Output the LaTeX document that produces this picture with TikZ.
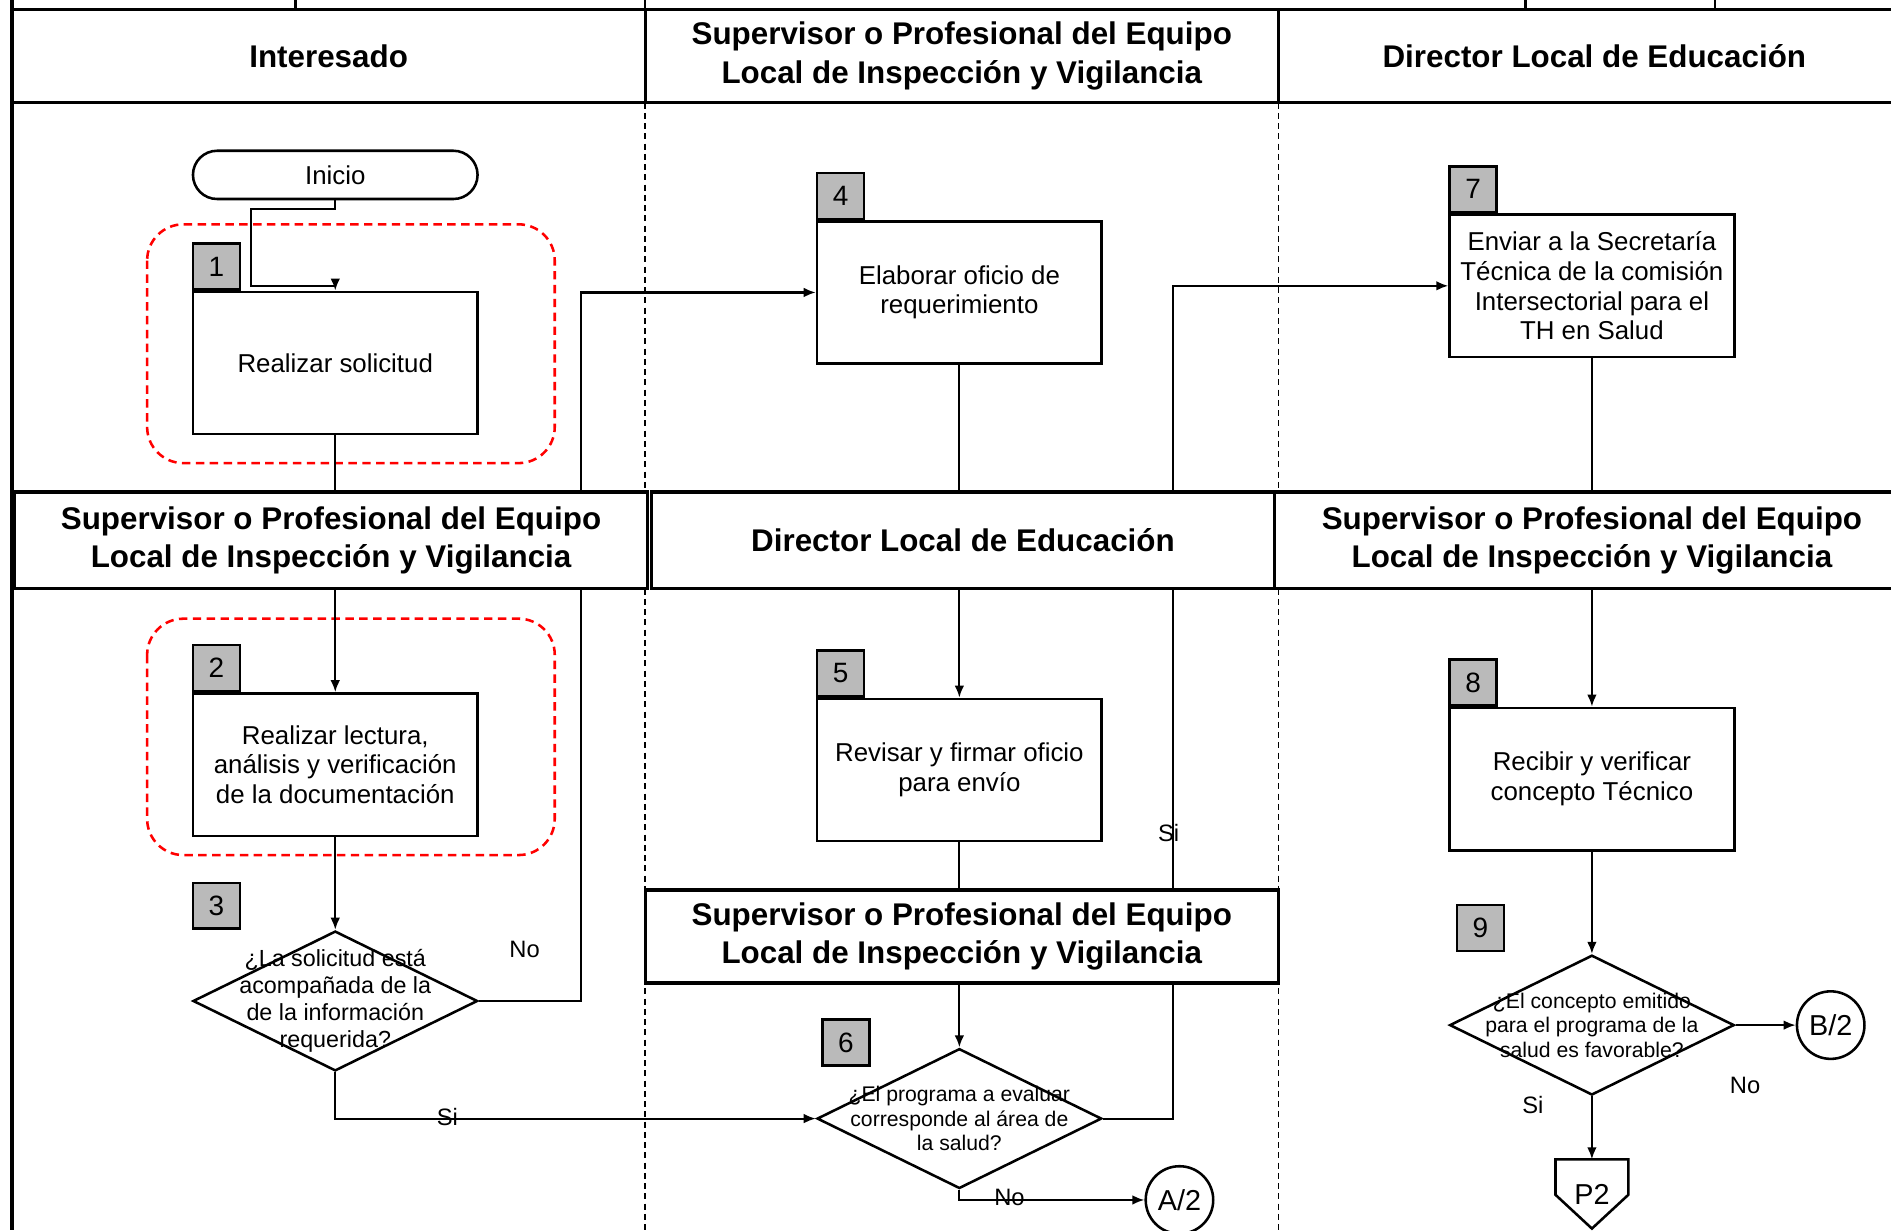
\documentclass[tikz,border=0pt]{standalone}
\usepackage{fontspec}
\setmainfont{Liberation Sans}
\usetikzlibrary{shapes.geometric, arrows.meta, positioning}

\tikzset{
  lanebox/.style={draw, fill=white, line width=0.8pt, align=center, inner sep=0pt, font=\fontsize{7.4}{9.1}\selectfont\bfseries},
  sep/.style={line width=0.4pt, dash pattern=on 0.5mm off 0.35mm},
  act/.style={draw, line width=0.6pt, minimum width=23.6mm, minimum height=11.8mm, inner sep=0pt, align=center, font=\fontsize{6.1}{7}\selectfont},
  tag/.style={draw, line width=0.6pt, fill=black!27, minimum width=3.9mm, minimum height=3.8mm, inner sep=0pt, font=\fontsize{6.6}{7}\selectfont},
  decis/.style={draw, diamond, line width=0.6pt, minimum width=23.6mm, minimum height=11.6mm, inner sep=0pt},
  qtext/.style={align=center, inner sep=0pt, font=\fontsize{5.5}{6.4}\selectfont},
  qsmall/.style={align=center, inner sep=0pt, font=\fontsize{5}{5.8}\selectfont},
  lbl/.style={inner sep=0pt, font=\fontsize{5.6}{6}\selectfont},
  pageref/.style={circle, draw, line width=0.6pt, minimum size=5.6mm, inner sep=0pt, font=\fontsize{6.8}{7}\selectfont},
  flow/.style={line width=0.5pt},
  focus/.style={red, line width=0.6pt, dash pattern=on 0.7mm off 0.45mm, rounded corners=3mm}
}

\begin{document}
\begin{tikzpicture}[x=0.1mm, y=-0.1mm, >={Latex[length=1mm,width=0.8mm]}]
% grid setup
\def\colA{535}
\def\colB{1060}
\def\ybot{1020}
\useasboundingbox (0,0) rectangle (1568,\ybot);

% lanes
\draw[line width=0.8pt] (10,0) -- (10,\ybot);
\draw[line width=0.8pt] (10,8) -- (1600,8);
\draw[line width=0.6pt] (245,0) -- (245,8) (1265,0) -- (1265,8) (1422,0) -- (1422,8) (\colA,0) -- (\colA,8);
\draw[sep] (\colA,85) -- (\colA,408) (\colB,85) -- (\colB,408);
\draw[sep] (\colA,488) -- (\colA,\ybot) (\colB,488) -- (\colB,\ybot);

% steps
\node[draw, line width=0.6pt, rounded corners=2mm, minimum width=23.6mm, minimum height=4mm, font=\fontsize{6.1}{7}\selectfont] (inicio) at (278,145) {Inicio};

\node[act] (b1) at (278,301) {Realizar solicitud};
\node[tag, anchor=south west] (t1) at (b1.north west) {1};
\node[act] (b2) at (278,634) {Realizar lectura,\\análisis y verificación\\de la documentación};
\node[tag, anchor=south west] (t2) at (b2.north west) {2};
\node[tag] (t3) at (179.5,751) {3};
\node[decis] (d3) at (278,830) {};
\node[qtext] (q3) at (d3) {¿La solicitud está\\acompañada de la\\de la información\\requerida?};

\node[act] (b4) at (795.5,242.5) {Elaborar oficio de\\requerimiento};
\node[tag, anchor=south west] (t4) at (b4.north west) {4};
\node[act] (b5) at (795.5,638.5) {Revisar y firmar oficio\\para envío};
\node[tag, anchor=south west] (t5) at (b5.north west) {5};
\node[tag] (t6) at (701.5,864.5) {6};
\node[decis] (d6) at (795.5,927.5) {};
\node[qsmall] (q6) at (d6) {¿El programa a evaluar\\corresponde al área de\\la salud?};
\node[pageref] (a2) at (978,995) {A/2};

\node[act] (b7) at (1320,237) {Enviar a la Secretaría\\Técnica de la comisión\\Intersectorial para el\\TH en Salud};
\node[tag, anchor=south west] (t7) at (b7.north west) {7};
\node[act] (b8) at (1320,646) {Recibir y verificar\\concepto Técnico};
\node[tag, anchor=south west] (t8) at (b8.north west) {8};
\node[tag] (t9) at (1227.5,769.5) {9};
\node[decis] (d9) at (1320,850) {};
\node[qsmall] (q9) at (d9) {¿El concepto emitido\\para el programa de la\\salud es favorable?};
\node[pageref] (bb2) at (1518,850) {B/2};
\node[inner sep=0pt, minimum width=5.9mm, minimum height=5.6mm, font=\fontsize{6.8}{7}\selectfont] (p2) at (1320,990) {P2};
\draw[line width=0.6pt] (p2.north west) -- (p2.north east) -- ([yshift=2.8mm]p2.south east) -- (p2.south) -- ([yshift=2.8mm]p2.south west) -- cycle;

\draw[focus] (122,186) rectangle (460,384);
\draw[focus] (122,513) rectangle (460,709);

% connectors
\draw[flow] (inicio.south) -- ++(0,7) -| ++(-70,64) -- ++(70,0);
\draw[flow,->] ([yshift=0.8mm]b1.north) -- (b1.north);
\draw[flow,->] (b1.south) -- (b2.north);
\draw[flow,->] (b2.south) -- (d3.north);
\draw[flow,->] (d3.east) -- ++(85,0) |- (b4.west);
\draw[flow,->] (d3.south) |- (d6.west);
\draw[flow,->] (b4.south) -- (b5.north);
\draw[flow,->] (b5.south) -- (d6.north);
\draw[flow,->] (d6.east) -- ++(58,0) |- (b7.west);
\draw[flow,->] (d6.south) |- (a2.west);
\draw[flow,->] (b7.south) -- (b8.north);
\draw[flow,->] (b8.south) -- (d9.north);
\draw[flow,->] (d9.east) -- (bb2.west);
\draw[flow,->] (d9.south) -- (p2.north);

\node[lbl] (no3) at (435,787) {No};
\node[lbl] (si3) at (371,926) {Si};
\node[lbl] (si6) at (969,691) {Si};
\node[lbl] (no6) at (837,993) {No};
\node[lbl] (no9) at (1447,900) {No};
\node[lbl] (si9) at (1271,916) {Si};

% lane headers
\node[lanebox, minimum width=52.5mm, minimum height=7.7mm] (hInt) at (272.5,46.5) {Interesado};
\node[lanebox, minimum width=52.5mm, minimum height=7.7mm] (hSup) at (797.5,46.5) {Supervisor o Profesional del Equipo\\Local de Inspección y Vigilancia};
\node[lanebox, minimum width=52.4mm, minimum height=7.7mm] (hDir) at (1322,46.5) {Director Local de Educación};
\node[lanebox, minimum width=52.5mm, minimum height=8mm] (hSupB) at (274.5,448) {Supervisor o Profesional del Equipo\\Local de Inspección y Vigilancia};
\node[lanebox, minimum width=51.7mm, minimum height=8mm] (hDirB) at (798.5,448) {Director Local de Educación};
\node[lanebox, minimum width=52.6mm, minimum height=8mm] (hSupC) at (1320,448) {Supervisor o Profesional del Equipo\\Local de Inspección y Vigilancia};
\node[lanebox, minimum width=52.5mm, minimum height=7.7mm] (hSupD) at (797.5,776.5) {Supervisor o Profesional del Equipo\\Local de Inspección y Vigilancia};
\end{tikzpicture}
\end{document}
